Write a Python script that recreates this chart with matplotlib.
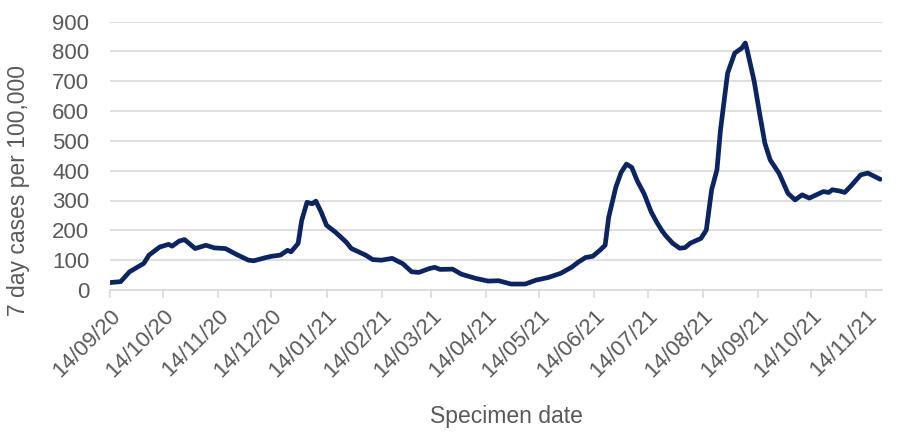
import matplotlib
matplotlib.use("Agg")
import matplotlib.pyplot as plt
import pandas as pd

plt.rcParams['font.family'] = ['Liberation Sans', 'DejaVu Sans']

dates = ["2020-09-14", "2020-09-20", "2020-09-25", "2020-10-03", "2020-10-06", "2020-10-12",
         "2020-10-17", "2020-10-19", "2020-10-23", "2020-10-26", "2020-11-01", "2020-11-07",
         "2020-11-12", "2020-11-18", "2020-11-24", "2020-12-01", "2020-12-04", "2020-12-11",
         "2020-12-14", "2020-12-19", "2020-12-23", "2020-12-25", "2020-12-29", "2020-12-31",
         "2021-01-03", "2021-01-06", "2021-01-08", "2021-01-11", "2021-01-14", "2021-01-19",
         "2021-01-25", "2021-01-28", "2021-02-05", "2021-02-09", "2021-02-14", "2021-02-20",
         "2021-02-26", "2021-03-03", "2021-03-07", "2021-03-13", "2021-03-16", "2021-03-19",
         "2021-03-26", "2021-03-31", "2021-04-08", "2021-04-15", "2021-04-21", "2021-04-28",
         "2021-05-06", "2021-05-12", "2021-05-19", "2021-05-26", "2021-06-01", "2021-06-05",
         "2021-06-09", "2021-06-13", "2021-06-17", "2021-06-20", "2021-06-22", "2021-06-26",
         "2021-06-29", "2021-07-02", "2021-07-05", "2021-07-08", "2021-07-12", "2021-07-16",
         "2021-07-19", "2021-07-22", "2021-07-24", "2021-07-28", "2021-08-01", "2021-08-04",
         "2021-08-07", "2021-08-13", "2021-08-16", "2021-08-19", "2021-08-22", "2021-08-24",
         "2021-08-28", "2021-09-01", "2021-09-05", "2021-09-07", "2021-09-08", "2021-09-12",
         "2021-09-15", "2021-09-18", "2021-09-21", "2021-09-26", "2021-10-01", "2021-10-05",
         "2021-10-09", "2021-10-13", "2021-10-17", "2021-10-21", "2021-10-24", "2021-10-26",
         "2021-10-30", "2021-11-02", "2021-11-06", "2021-11-11", "2021-11-15", "2021-11-22"]

cases = [25, 28, 61, 89, 117, 144,
         153, 147, 164, 169, 139, 150,
         141, 139, 120, 100, 98, 109,
         113, 117, 133, 128, 156, 233,
         294, 289, 298, 261, 217, 194,
         161, 139, 117, 102, 100, 106,
         88, 61, 59, 72, 76, 69,
         70, 53, 39, 30, 31, 20,
         20, 33, 42, 56, 76, 94,
         109, 113, 133, 150, 244, 344,
         394, 422, 411, 367, 322, 261,
         228, 199, 183, 157, 140, 142,
         157, 173, 201, 336, 403, 537,
         727, 794, 811, 828, 805, 699,
         593, 492, 436, 391, 324, 302,
         319, 308, 319, 330, 327, 336,
         332, 327, 352, 386, 392, 371]

tick_dates = ["2020-09-14", "2020-10-14", "2020-11-14", "2020-12-14", "2021-01-14",
              "2021-02-14", "2021-03-14", "2021-04-14", "2021-05-14", "2021-06-14",
              "2021-07-14", "2021-08-14", "2021-09-14", "2021-10-14", "2021-11-14"]
tick_labels = ["14/09/20", "14/10/20", "14/11/20", "14/12/20", "14/01/21",
               "14/02/21", "14/03/21", "14/04/21", "14/05/21", "14/06/21",
               "14/07/21", "14/08/21", "14/09/21", "14/10/21", "14/11/21"]
y_ticks = [0, 100, 200, 300, 400, 500, 600, 700, 800, 900]

x = pd.to_datetime(dates)
fig = plt.figure(figsize=(9.18, 4.47), dpi=100)
ax = fig.add_axes([110/918, 1 - 290/447, (882-110)/918, (290-21.5)/447])

ax.plot(x, cases, color='#0c2461', lw=3.4, solid_joinstyle='round', solid_capstyle='round')

ax.set_xlim(pd.Timestamp("2020-09-14"), pd.Timestamp("2021-11-23"))
ax.set_ylim(0, 900)
ax.set_yticks(y_ticks)
ax.set_xticks(pd.to_datetime(tick_dates))
ax.set_xticklabels(tick_labels, rotation=45, ha='right', rotation_mode='anchor')

ax.grid(axis='y', color='#d9d9d9', lw=1.2)
ax.set_axisbelow(True)
for s in ['top', 'right', 'left']:
    ax.spines[s].set_visible(False)
ax.spines['bottom'].set_color('#d9d9d9')
ax.spines['bottom'].set_linewidth(1.2)
ax.tick_params(axis='y', length=0, pad=15, labelsize=16, labelcolor='#595959')
ax.tick_params(axis='x', length=6, width=1.2, color='#d9d9d9', pad=5, labelsize=16,
               labelcolor='#595959')

fig.text(19/918, 1 - 191/447, "7 day cases per 100,000", rotation=90, ha='center',
         va='center', fontsize=16.5, color='#595959')
fig.text(506/918, 1 - 416/447, "Specimen date", ha='center', va='center',
         fontsize=16.5, color='#595959')

fig.savefig("out.png", dpi=100)
